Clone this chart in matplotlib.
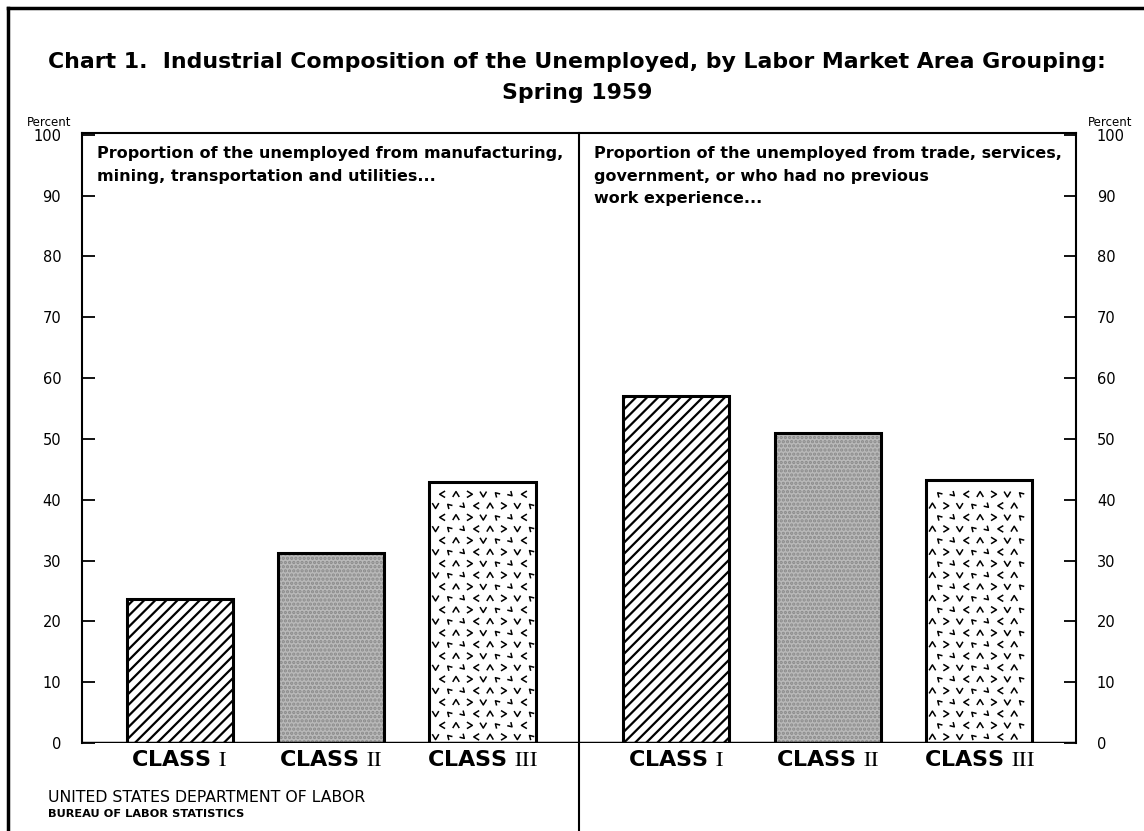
import numpy as np
import matplotlib.pyplot as plt
from matplotlib.path import Path
from matplotlib.transforms import Affine2D
from matplotlib.lines import Line2D

plt.rcParams['mathtext.fontset'] = 'stix'
plt.rcParams['hatch.linewidth'] = 1.6

# data (percent of the unemployed)
classes = ['I', 'II', 'III']
goods_pct = [23.7, 31.2, 42.9]      # manufacturing, mining, transportation, utilities
service_pct = [57.1, 51.0, 43.3]    # trade, services, government, no previous work
panel_notes = ['Proportion of the unemployed from manufacturing,\n'
               'mining, transportation and utilities...',
               'Proportion of the unemployed from trade, services,\n'
               'government, or who had no previous\nwork experience...']
yticks = np.arange(0, 101, 10)

W, H = 1144, 831
fig = plt.figure(figsize=(W / 100, H / 100), dpi=100)
ax = fig.add_axes([82 / W, 1 - 743 / H, (1076 - 82) / W, (743 - 133) / H])

gap = 3.28
left_x = np.arange(3)
right_x = np.arange(3) + gap
width = 0.70

def chevrons(ax, x0, x1, top, offset):
    # texture of small open "v" marks for class III bars
    base = Path([(-0.6, 0.5), (0, -0.5), (0.6, 0.5)],
                [Path.MOVETO, Path.LINETO, Path.LINETO])
    rots = [base.transformed(Affine2D().rotate_deg(a)) for a in (0, 90, 180, 270, 45, 225)]
    ys = np.arange(1.0, top - 0.5, 1.9)
    for j, yy in enumerate(ys):
        xs = np.arange(x0 + 0.04 + (j % 2) * 0.045, x1 - 0.03, 0.09)
        for i, xx in enumerate(xs):
            k = (i * 5 + j * 3 + offset) % 6
            ax.scatter(xx, yy, marker=rots[k], s=22, facecolors='none',
                       edgecolors='black', linewidths=1.1, zorder=3)

for xs, vals, off in [(left_x, goods_pct, 0), (right_x, service_pct, 2)]:
    # class I: diagonal lines
    ax.bar(xs[0], vals[0], width, color='white', edgecolor='black',
           hatch='///', linewidth=2.2, zorder=2)
    # class II: grey stipple
    ax.bar(xs[1], vals[1], width, color='#b9b9b9', edgecolor='#8a8a8a',
           hatch='....', linewidth=0, zorder=2)
    ax.bar(xs[1], vals[1], width, fill=False, edgecolor='black',
           linewidth=2.2, zorder=4)
    # class III: chevrons
    ax.bar(xs[2], vals[2], width, fill=False, edgecolor='black',
           linewidth=2.2, zorder=4)
    chevrons(ax, xs[2] - width / 2, xs[2] + width / 2, vals[2], off)

ax.set_xlim(-0.644, 5.918)
ax.set_ylim(0, 100.3)
divider = (left_x[-1] + right_x[0]) / 2
ax.axvline(divider, color='black', lw=1.5, ymin=-0.15, ymax=1, clip_on=False)
ax.axhline(0, color='black', lw=2.5, zorder=5)

for s in ['left', 'right', 'top']:
    ax.spines[s].set_linewidth(1.5)
ax.spines['bottom'].set_visible(False)

ax.set_yticks(yticks)
ax.tick_params(axis='y', direction='in', length=9, width=1.3, labelsize=10.5,
               left=True, right=True, labelleft=True, labelright=True, pad=15)
ax.set_xticks(list(left_x) + list(right_x))
ax.set_xticklabels([rf'CLASS $\mathrm{{{c}}}$' for c in classes] * 2,
                   fontsize=16, fontweight='bold')
ax.tick_params(axis='x', length=0, pad=5)

ax.text(0.015, 0.979, panel_notes[0], transform=ax.transAxes, va='top', ha='left',
        fontsize=11.5, fontweight='bold', linespacing=1.65)
ax.text(0.515, 0.979, panel_notes[1], transform=ax.transAxes, va='top', ha='left',
        fontsize=11.5, fontweight='bold', linespacing=1.65)

fig.text(577 / W, 1 - 62 / H, 'Chart 1.  Industrial Composition of the Unemployed, by Labor Market Area Grouping:',
         ha='center', va='center', fontsize=15.8, fontweight='bold')
fig.text(577 / W, 1 - 93 / H, 'Spring 1959', ha='center', va='center',
         fontsize=15.8, fontweight='bold')
fig.text(27 / W, 1 - 122 / H, 'Percent', fontsize=8.5, va='center')
fig.text(1088 / W, 1 - 122 / H, 'Percent', fontsize=8.5, va='center')
fig.text(48 / W, 1 - 798 / H, 'UNITED STATES DEPARTMENT OF LABOR', fontsize=11.3, va='center')
fig.text(48 / W, 1 - 814 / H, 'BUREAU OF LABOR STATISTICS', fontsize=8.2,
         fontweight='bold', va='center')

# outer frame
fig.add_artist(Line2D([8 / W, 8 / W], [0, 1 - 8 / H], color='black', lw=2.5))
fig.add_artist(Line2D([8 / W, 1], [1 - 8 / H, 1 - 8 / H], color='black', lw=2.5))

fig.savefig('out.png', dpi=100)
